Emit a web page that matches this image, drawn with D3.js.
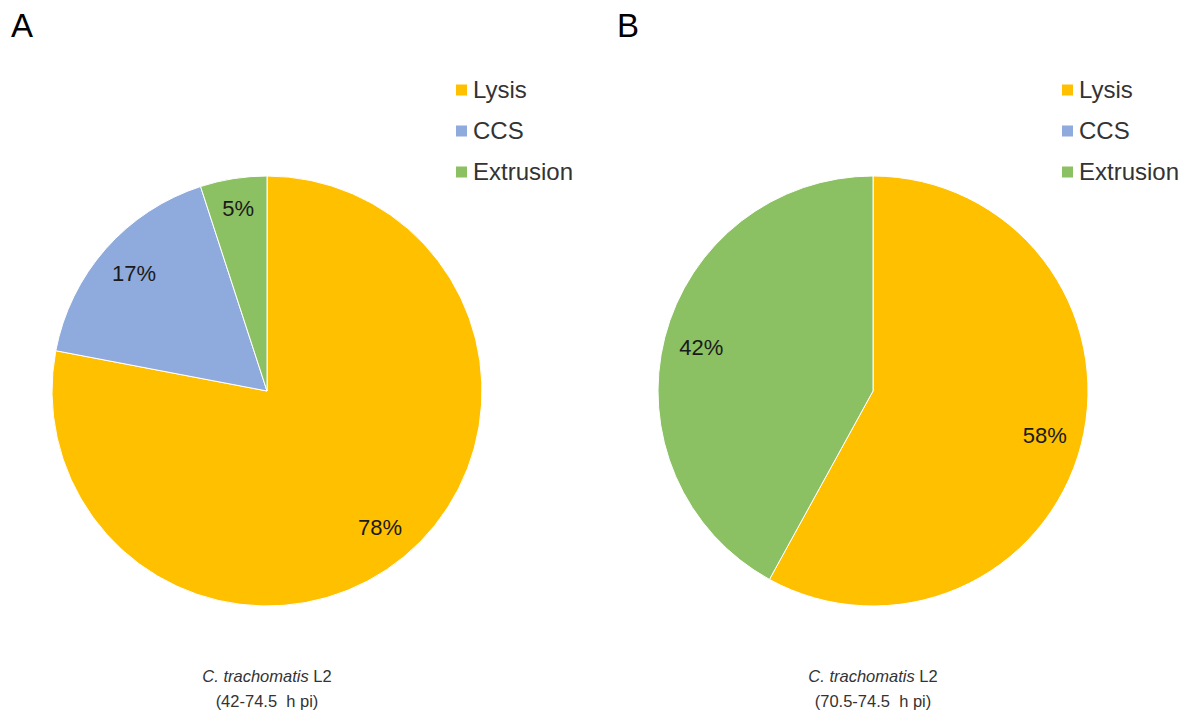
<!DOCTYPE html>
<html>
<head>
<meta charset="utf-8">
<script src="https://cdn.jsdelivr.net/npm/d3@7"></script>
<style>
  body { margin: 0; background: #fff; }
  svg { display: block; font-family: "Liberation Sans", Arial, sans-serif; }
</style>
</head>
<body>
<svg id="chart" width="1187" height="715"></svg>
<script>
// Release pathways of C. trachomatis L2 in two time windows
const categories = ["Lysis", "CCS", "Extrusion"];
const colors = ["#FFC000", "#8FAADC", "#8BC063"];
const panelA = [78, 17, 5];
const panelB = [58, 0, 42];
const panelLetters = ["A", "B"];
const windows = ["(42-74.5  h pi)", "(70.5-74.5  h pi)"];

const svg = d3.select("#chart");
const radius = 215;
const color = d3.scaleOrdinal().domain(categories).range(colors);

const pie = d3.pie().sort(null).value(d => d.value);
const arc = d3.arc().innerRadius(0).outerRadius(radius);
// small slices get their label pushed a little further out
const labelRadius = d => radius * (d.data.value < 10 ? 0.86 : 0.825);

const panels = [
  { values: panelA, cx: 267, letter: panelLetters[0], window: windows[0] },
  { values: panelB, cx: 873, letter: panelLetters[1], window: windows[1] }
];

panels.forEach(p => {
  const data = categories.map((c, i) => ({ cat: c, value: p.values[i] }));
  const g = svg.append("g").attr("transform", `translate(${p.cx},391)`);
  const arcs = pie(data).filter(d => d.data.value > 0);

  g.selectAll("path").data(arcs).join("path")
    .attr("d", arc)
    .attr("fill", d => color(d.data.cat))
    .attr("stroke", "#fff")
    .attr("stroke-width", 1);

  g.selectAll("text.val").data(arcs).join("text")
    .attr("class", "val")
    .attr("transform", d => {
      const r = labelRadius(d);
      return `translate(${d3.arc().innerRadius(r).outerRadius(r).centroid(d)})`;
    })
    .attr("text-anchor", "middle")
    .attr("dy", "0.35em")
    .attr("font-size", 22)
    .attr("fill", "#1a1a1a")
    .text(d => d.data.value + "%");

  // panel letter
  svg.append("text")
    .attr("x", p.cx - 256)
    .attr("y", 37)
    .attr("font-size", 33)
    .attr("fill", "#000")
    .text(p.letter);

  // legend
  const lg = svg.append("g").attr("transform", `translate(${p.cx + 189},0)`);
  categories.forEach((c, i) => {
    const y = 90 + i * 41;
    lg.append("rect")
      .attr("x", 0).attr("y", y - 5.5)
      .attr("width", 11).attr("height", 11)
      .attr("fill", color(c));
    lg.append("text")
      .attr("x", 17).attr("y", y)
      .attr("dy", "0.35em")
      .attr("font-size", 24)
      .attr("fill", "#333")
      .text(c);
  });

  // caption
  const cap = svg.append("text")
    .attr("x", p.cx)
    .attr("y", 682)
    .attr("text-anchor", "middle")
    .attr("font-size", 16.5)
    .attr("fill", "#333");
  cap.append("tspan").attr("font-style", "italic").text("C. trachomatis");
  cap.append("tspan").text(" L2");
  svg.append("text")
    .attr("x", p.cx)
    .attr("y", 707)
    .attr("text-anchor", "middle")
    .attr("font-size", 16.5)
    .attr("fill", "#333")
    .style("white-space", "pre")
    .text(p.window);
});
</script>
</body>
</html>
